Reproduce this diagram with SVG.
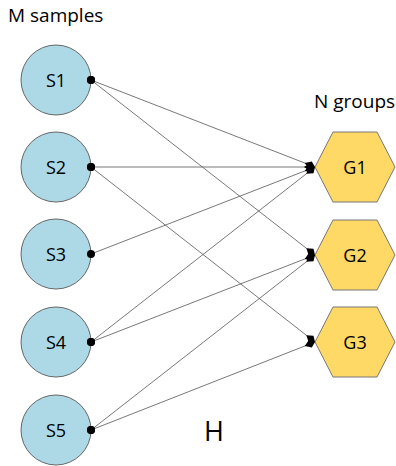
<svg xmlns="http://www.w3.org/2000/svg" width="396" height="466" viewBox="0 0 396 466">
<style>
text{font-family:"Open Sans","Liberation Sans",sans-serif;fill:#000}
.s circle{fill:#add8e6;stroke:#666;stroke-width:1}
.g polygon{fill:#ffd966;stroke:#777;stroke-width:1}
.lbl{font-size:18px;text-anchor:middle;dominant-baseline:central}
#edges line{stroke:#555;stroke-width:0.8;marker-start:url(#dot);marker-end:url(#dia)}
</style>
<defs>
<marker id="dot" viewBox="-5 -5 10 10" markerWidth="10" markerHeight="10" markerUnits="userSpaceOnUse" refX="0" refY="0"><circle r="4" fill="#000"/></marker>
<marker id="dia" viewBox="-12 -5 13 10" markerWidth="13" markerHeight="10" markerUnits="userSpaceOnUse" refX="0" refY="0" orient="auto"><polygon points="-11,0 -5,-4 0,0 -5,4" fill="#000"/></marker>
</defs>
<text x="8" y="22" font-size="19">M samples</text>
<text x="314" y="108" font-size="19">N groups</text>
<text x="204" y="441" font-size="27">H</text>
<g id="S1" class="s"><circle cx="56" cy="80" r="35"/><text class="lbl" x="56" y="80">S1</text></g>
<g id="S2" class="s"><circle cx="56" cy="167" r="35"/><text class="lbl" x="56" y="167">S2</text></g>
<g id="S3" class="s"><circle cx="56" cy="254" r="35"/><text class="lbl" x="56" y="254">S3</text></g>
<g id="S4" class="s"><circle cx="56" cy="342" r="35"/><text class="lbl" x="56" y="342">S4</text></g>
<g id="S5" class="s"><circle cx="56" cy="430" r="35"/><text class="lbl" x="56" y="430">S5</text></g>
<g id="G1" class="g"><polygon points="315,167 333,132 377,132 395,167 377,202 333,202"/><text class="lbl" x="355" y="167">G1</text></g>
<g id="G2" class="g"><polygon points="315,255 333,220 377,220 395,255 377,290 333,290"/><text class="lbl" x="355" y="255">G2</text></g>
<g id="G3" class="g"><polygon points="315,342 333,307 377,307 395,342 377,377 333,377"/><text class="lbl" x="355" y="342">G3</text></g>
<g id="edges">
<line x1="91" y1="80" x2="315" y2="167"/>
<line x1="91" y1="80" x2="315" y2="255"/>
<line x1="91" y1="167" x2="315" y2="167"/>
<line x1="91" y1="167" x2="315" y2="342"/>
<line x1="91" y1="254" x2="315" y2="167"/>
<line x1="91" y1="342" x2="315" y2="167"/>
<line x1="91" y1="342" x2="315" y2="255"/>
<line x1="91" y1="430" x2="315" y2="255"/>
<line x1="91" y1="430" x2="315" y2="342"/>
</g>
</svg>
